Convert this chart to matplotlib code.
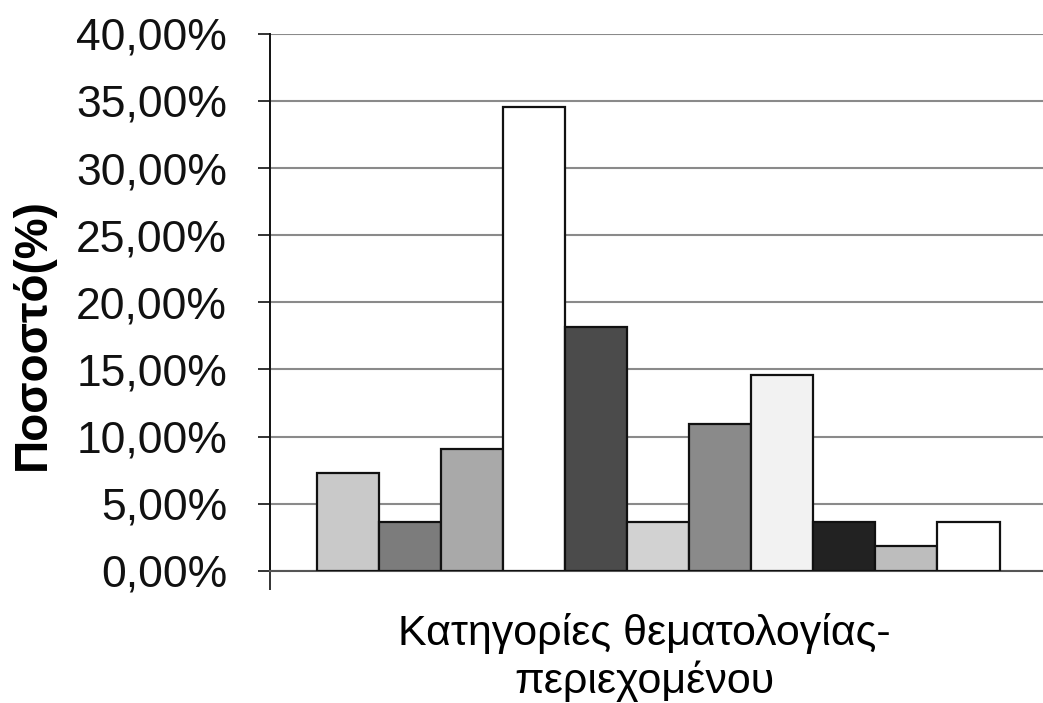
import matplotlib.pyplot as plt
from matplotlib.ticker import FuncFormatter

# Values (percent)
categories = list(range(1, 12))
values = [7.27, 3.64, 9.09, 34.55, 18.18, 3.64, 10.91, 14.55, 3.64, 1.82, 3.64]
bar_colors = ['#c9c9c9', '#7c7c7c', '#a9a9a9', '#ffffff', '#4b4b4b', '#d2d2d2',
              '#8a8a8a', '#f2f2f2', '#222222', '#bdbdbd', '#ffffff']
y_ticks = [0, 5, 10, 15, 20, 25, 30, 35, 40]


def main():
    plt.rcParams['font.family'] = ['Liberation Sans', 'DejaVu Sans']
    fig = plt.figure(figsize=(10.43, 7.03), dpi=100)
    ax = fig.add_axes([0.259, 0.188, 0.741, 0.764])

    x = list(range(len(values)))
    ax.bar(x, values, width=1.0, color=bar_colors, edgecolor='#111111',
           linewidth=1.6, zorder=3)

    ax.set_ylim(0, 40)
    ax.set_xlim(-1.25, 11.2)
    ax.set_yticks(y_ticks)
    ax.yaxis.set_major_formatter(FuncFormatter(lambda v, p: f"{v:.2f}%".replace('.', ',')))
    ax.tick_params(axis='y', labelsize=32, length=9, width=1.2, direction='out',
                   pad=22, colors='#111111')
    ax.set_xticks([-1.25])
    ax.set_xticklabels([''])
    ax.tick_params(axis='x', length=14, width=1.2, direction='out', colors='#111111')

    ax.grid(axis='y', color='#8a8a8a', linewidth=1.5, zorder=0)
    ax.spines['top'].set_visible(False)
    ax.spines['right'].set_visible(False)
    ax.spines['left'].set_color('#111111')
    ax.spines['left'].set_linewidth(1.4)
    ax.spines['bottom'].set_color('#555555')
    ax.spines['bottom'].set_linewidth(1.5)

    ax.set_ylabel('Ποσοστό(%)', fontsize=33, fontweight='bold')
    ax.yaxis.set_label_coords(-0.279, 0.44)
    ax.set_xlabel('Κατηγορίες θεματολογίας-\nπεριεχομένου', fontsize=31,
                  linespacing=1.2)
    ax.xaxis.set_label_coords(0.484, -0.078)

    fig.savefig('out.png', dpi=100)
    plt.close(fig)


if __name__ == "__main__":
    main()
